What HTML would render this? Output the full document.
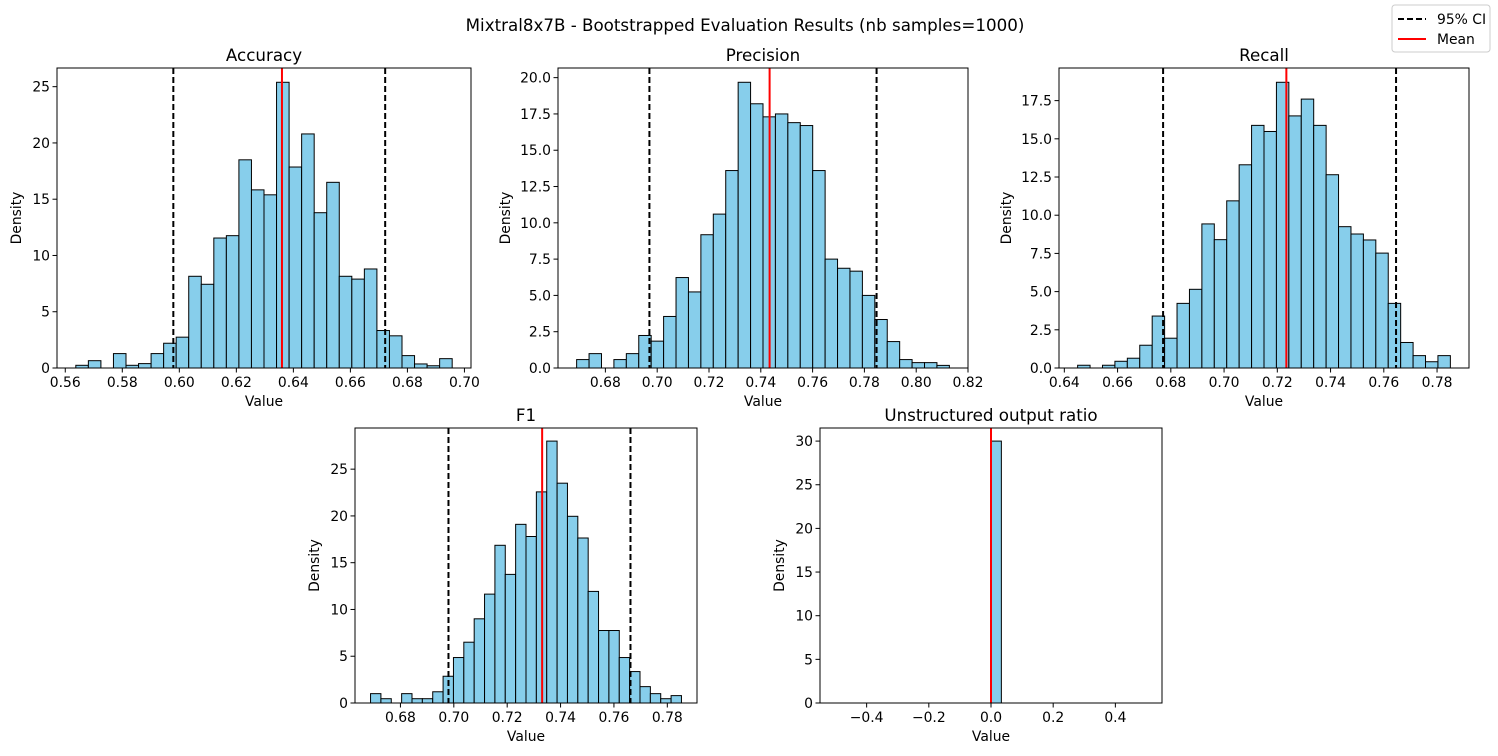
<!DOCTYPE html>
<html><head><meta charset="utf-8"><style>
html,body{margin:0;padding:0;background:#fff;}
svg{display:block;font-family:"DejaVu Sans","Liberation Sans",sans-serif;}
</style></head><body>
<svg id="fig" width="1498" height="756" viewBox="0 0 1498 756" xmlns="http://www.w3.org/2000/svg">
<rect width="1498" height="756" fill="#fff"/>
<text x="745" y="31" font-size="16.7" text-anchor="middle">Mixtral8x7B - Bootstrapped Evaluation Results (nb samples=1000)</text>
<g>
<rect x="1392" y="5" width="98" height="47" rx="3" fill="#fff" stroke="#ccc"/>
<line x1="1398" y1="19" x2="1426" y2="19" stroke="#000" stroke-width="2" stroke-dasharray="6,3"/>
<text x="1437" y="24" font-size="13.9">95% CI</text>
<line x1="1398" y1="39" x2="1426" y2="39" stroke="#f00" stroke-width="2"/>
<text x="1437" y="44" font-size="13.9">Mean</text>
</g>
</svg>
<script>
// Accuracy
const accHeights=[0.24,0.65,0,1.28,0.24,0.39,1.28,2.2,2.74,8.15,7.44,11.55,11.76,18.5,15.83,15.39,25.39,17.86,20.8,13.8,16.5,8.15,7.9,8.8,3.33,2.86,1.1,0.36,0.2,0.83];
const accRange=[0.5637,0.6957];
const accStats=[0.636,0.5979,0.6722];
const accXTicks=[0.56,0.58,0.60,0.62,0.64,0.66,0.68,0.70];
const accYTicks=[0,5,10,15,20,25];
// Precision
const precHeights=[0.58,0.99,0,0.58,0.99,2.24,1.85,3.55,6.23,5.24,9.18,10.6,13.6,19.68,18.2,17.3,17.5,16.9,16.7,13.6,7.5,6.87,6.67,5.0,3.34,1.82,0.58,0.37,0.37,0.18];
const precRange=[0.6689,0.8128];
const precStats=[0.7434,0.697,0.7847];
const precXTicks=[0.68,0.70,0.72,0.74,0.76,0.78,0.80,0.82];
const precYTicks=[0,2.5,5,7.5,10,12.5,15,17.5,20];
// Recall
const recHeights=[0.18,0,0.18,0.44,0.64,1.49,3.4,1.95,4.23,5.15,9.43,8.4,10.94,13.3,15.88,15.48,18.7,16.5,17.6,15.88,12.65,9.25,8.77,8.38,7.52,4.23,1.67,0.81,0.41,0.81];
const recRange=[0.645,0.785];
const recStats=[0.7234,0.6771,0.7646];
const recXTicks=[0.64,0.66,0.68,0.70,0.72,0.74,0.76,0.78];
const recYTicks=[0,2.5,5,7.5,10,12.5,15,17.5];
// F1
const f1Heights=[1.0,0.46,0,1.0,0.46,0.46,1.2,2.86,4.86,6.5,9.0,11.64,16.86,13.75,19.1,17.8,22.57,28.0,23.5,19.96,17.64,11.93,7.75,7.75,4.86,3.36,1.75,1.0,0.46,0.79];
const f1Range=[0.6688,0.7853];
const f1Stats=[0.7331,0.698,0.7662];
const f1XTicks=[0.68,0.70,0.72,0.74,0.76,0.78];
const f1YTicks=[0,5,10,15,20,25];
// Unstructured output ratio
const unsHeights=[0,0,0,0,0,0,0,0,0,0,0,0,0,0,0,30,0,0,0,0,0,0,0,0,0,0,0,0,0,0];
const unsRange=[-0.5,0.5];
const unsStats=[0,0,0];
const unsXTicks=[-0.4,-0.2,0.0,0.2,0.4];
const unsYTicks=[0,5,10,15,20,25,30];

const NS="http://www.w3.org/2000/svg";
const svg=document.getElementById('fig');
function mk(tag,attrs,parent){const e=document.createElementNS(NS,tag);for(const k in attrs)e.setAttribute(k,attrs[k]);(parent||svg).appendChild(e);return e;}
function fmt(v,dec){let s=v.toFixed(dec);if(v<0)s='\u2212'+s.slice(1);return s;}

function panel(key,title,box,heights,range,stats,xticks,yticks,xdec,ydec){
  const [L,T,R,B]=box;
  const g=mk('g',{});
  
  
  const span=range[1]-range[0];
  const x0=range[0]-0.05*span,x1=range[1]+0.05*span;
  const ymax=Math.max(...heights)*1.05;
  const sx=v=>L+(v-x0)/(x1-x0)*(R-L);
  const sy=v=>B-v/ymax*(B-T);
  const n=heights.length,bw=span/n;
  for(let i=0;i<n;i++){
    const a=sx(range[0]+i*bw),b=sx(range[0]+(i+1)*bw),y=sy(heights[i]);
    const r=mk('rect',{x:a,y:y,width:b-a,height:B-y,fill:'#87ceeb',stroke:heights[i]>0?'#000':'#555','stroke-width':1},g);
    
    
  }
  const m=mk('line',{x1:sx(stats[0]),x2:sx(stats[0]),y1:T,y2:B,stroke:'#f00','stroke-width':2},g);
  
  
  [stats[1],stats[2]].forEach(v=>{
    const d=mk('line',{x1:sx(v),x2:sx(v),y1:T,y2:B,stroke:'#000','stroke-width':2,'stroke-dasharray':'6,3'},g);
    
    
  });
  if(stats[1]===stats[2]&&stats[1]===stats[0]){mk('line',{x1:sx(stats[0]),x2:sx(stats[0]),y1:T,y2:B,stroke:'#f00','stroke-width':2},g);}
  const fr=mk('rect',{x:L,y:T,width:R-L,height:B-T,fill:'none',stroke:'#000','stroke-width':1},g);
  
  
  xticks.forEach(v=>{
    const x=sx(v);
    mk('line',{x1:x,x2:x,y1:B,y2:B+4.5,stroke:'#000','stroke-width':1},g);
    const t=mk('text',{x:x,y:B+19,'font-size':13.9,'text-anchor':'middle'},g);
    t.textContent=fmt(v,xdec);
    
    
  });
  yticks.forEach(v=>{
    const y=sy(v);
    mk('line',{x1:L-4.5,x2:L,y1:y,y2:y,stroke:'#000','stroke-width':1},g);
    const t=mk('text',{x:L-7,y:y+5,'font-size':13.9,'text-anchor':'end'},g);
    t.textContent=fmt(v,ydec);
    
    
  });
  const tt=mk('text',{x:(L+R)/2,y:T-7,'font-size':16.7,'text-anchor':'middle'},g);
  tt.textContent=title;
  
  
  const xl=mk('text',{x:(L+R)/2,y:B+38,'font-size':13.9,'text-anchor':'middle'},g);
  xl.textContent='Value';
  
  
  const yx=L-(ydec?48:36),yy=(T+B)/2;
  const yl=mk('text',{x:yx,y:yy,'font-size':13.9,'text-anchor':'middle',transform:'rotate(-90 '+yx+' '+yy+')'},g);
  yl.textContent='Density';
  
  
}
panel('accuracy','Accuracy',[57,68,471,368],accHeights,accRange,accStats,accXTicks,accYTicks,2,0);
panel('precision','Precision',[558,68,968,368],precHeights,precRange,precStats,precXTicks,precYTicks,2,1);
panel('recall','Recall',[1059,68,1469,368],recHeights,recRange,recStats,recXTicks,recYTicks,2,1);
panel('f1','F1',[355,428,697,703],f1Heights,f1Range,f1Stats,f1XTicks,f1YTicks,2,0);
panel('unstructured','Unstructured output ratio',[820,428,1162,703],unsHeights,unsRange,unsStats,unsXTicks,unsYTicks,1,0);
</script>
</body></html>
